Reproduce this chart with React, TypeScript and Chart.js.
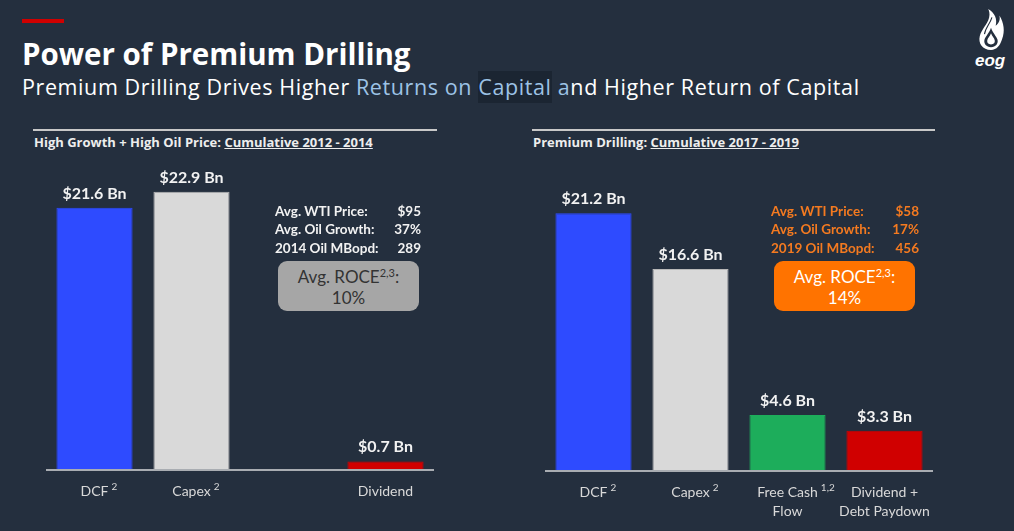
import React, { useEffect, useRef } from "react";
import { Chart, registerables } from "chart.js";
Chart.register(...registerables);

// ---- Data ----
const leftCategories: string[][] = [["DCF"], ["Capex"], [""], ["Dividend"]];
const leftSuperscripts = ["2", "2", "", ""];
const leftValues: (number | null)[] = [21.6, 22.9, null, 0.7];
const leftColors = ["#2E4BFF", "#D9D9D9", "#D9D9D9", "#D00000"];

const rightCategories: string[][] = [["DCF"], ["Capex"], ["Free Cash", "Flow"], ["Dividend +", "Debt Paydown"]];
const rightSuperscripts = ["2", "2", "1,2", ""];
const rightValues: (number | null)[] = [21.2, 16.6, 4.6, 3.3];
const rightColors = ["#2E4BFF", "#D9D9D9", "#1DAD5B", "#D00000"];

const leftStats: [string, string][] = [["Avg. WTI Price:", "$95"], ["Avg. Oil Growth:", "37%"], ["2014 Oil MBopd:", "289"]];
const rightStats: [string, string][] = [["Avg. WTI Price:", "$58"], ["Avg. Oil Growth:", "17%"], ["2019 Oil MBopd:", "456"]];
const leftRoce = "10%";
const rightRoce = "14%";

const BG = "#242F3E";
const FONT = "Lato, 'Open Sans', sans-serif";
const OS = "'Open Sans', Lato, sans-serif";

function makePlugin(lines: string[][], sups: string[]) {
  return {
    id: "slideLabels",
    afterDatasetsDraw(chart: any) {
      const ctx = chart.ctx;
      const meta = chart.getDatasetMeta(0);
      const ds = chart.data.datasets[0].data;
      const xs = chart.scales.x;
      const ys = chart.scales.y;
      const y0 = ys.getPixelForValue(0);
      ctx.save();
      ctx.strokeStyle = "#A9ADB2";
      ctx.lineWidth = 2;
      ctx.beginPath();
      ctx.moveTo(chart.chartArea.left, y0);
      ctx.lineTo(chart.chartArea.right, y0);
      ctx.stroke();
      ctx.font = `bold 16px ${FONT}`;
      ctx.fillStyle = "#F2F2F2";
      ctx.textAlign = "center";
      ctx.textBaseline = "alphabetic";
      meta.data.forEach((bar: any, i: number) => {
        const v = ds[i];
        if (v == null) return;
        ctx.fillText(`$${v} Bn`, bar.x, bar.y - 9);
      });
      lines.forEach((ls, i) => {
        const cx = xs.getPixelForValue(i);
        ls.forEach((t, j) => {
          const by = y0 + 26 + j * 19;
          ctx.font = `14px ${FONT}`;
          ctx.textAlign = "center";
          ctx.fillStyle = "#D9D9D9";
          ctx.fillText(t, cx, by);
          if (j === 0 && sups[i]) {
            const w = ctx.measureText(t).width;
            ctx.font = `10px ${FONT}`;
            ctx.textAlign = "left";
            ctx.fillText(sups[i], cx + w / 2 + 3, by - 6);
          }
        });
      });
      ctx.restore();
    },
  };
}

function BarPanel(props: {
  left: number; top: number; width: number; height: number;
  pad: { left: number; right: number; top: number; bottom: number };
  max: number; cats: string[][]; sups: string[]; values: (number | null)[]; colors: string[];
}) {
  const ref = useRef<HTMLCanvasElement>(null);
  useEffect(() => {
    const chart = new Chart(ref.current!, {
      type: "bar",
      data: {
        labels: props.cats.map((c) => c.join(" ")),
        datasets: [
          {
            data: props.values as any,
            backgroundColor: props.colors,
            borderColor: props.colors.map((c) => (c === "#D9D9D9" ? "#B8B8B8" : c)),
            borderWidth: 1,
            barPercentage: 0.785,
            categoryPercentage: 1,
          },
        ],
      },
      options: {
        responsive: false,
        animation: false,
        layout: { padding: props.pad },
        plugins: { legend: { display: false }, tooltip: { enabled: false } },
        scales: {
          x: { display: false },
          y: { display: false, min: 0, max: props.max },
        },
      },
      plugins: [makePlugin(props.cats, props.sups)],
    });
    return () => chart.destroy();
  }, []);
  return (
    <canvas
      ref={ref}
      width={props.width}
      height={props.height}
      style={{ position: "absolute", left: props.left, top: props.top, width: props.width, height: props.height, display: "block" }}
    />
  );
}

function Stats(props: { left: number; width: number; rows: [string, string][]; color: string }) {
  return (
    <div style={{ position: "absolute", left: props.left, top: 201.5, width: props.width, font: `bold 13.5px ${FONT}`, lineHeight: "18.5px", color: props.color }}>
      {props.rows.map((r, i) => (
        <div key={i} style={{ display: "flex", justifyContent: "space-between", whiteSpace: "nowrap" }}>
          <span>{r[0]}</span>
          <span>{r[1]}</span>
        </div>
      ))}
    </div>
  );
}

function Roce(props: { left: number; bg: string; color: string; value: string }) {
  return (
    <div style={{ position: "absolute", left: props.left, top: 261, width: 141, height: 50, borderRadius: 9, background: props.bg, color: props.color, font: `17px ${FONT}`, lineHeight: "21px", textAlign: "center", boxSizing: "border-box", paddingTop: 5 }}>
      <div>Avg. ROCE<sup style={{ fontSize: 11, verticalAlign: "6px", lineHeight: 0 }}>2,3</sup>:</div>
      <div>{props.value}</div>
    </div>
  );
}

export default function App() {
  return (
    <div style={{ position: "fixed", left: 0, top: 0, width: 1014, height: 531, background: BG, overflow: "hidden", fontFamily: FONT }}>
      <div style={{ position: "absolute", left: 22, top: 19, width: 42, height: 3.5, background: "#D00000" }} />
      <div style={{ position: "absolute", left: 22, top: 38.5, font: `bold 29.5px ${OS}`, lineHeight: "29.5px", color: "#FFFFFF", whiteSpace: "nowrap" }}>
        Power of Premium Drilling
      </div>
      <div style={{ position: "absolute", left: 22, top: 76, font: `21.5px ${OS}`, lineHeight: "21.5px", color: "#FFFFFF", whiteSpace: "nowrap", letterSpacing: "0.6px" }}>
        Premium Drilling Drives Higher <span style={{ color: "#9DC3E6" }}>Returns on </span>
        <span style={{ color: "#9DC3E6", background: "#1B2532", padding: "1px 0 2px" }}>Capital</span>
        <span style={{ color: "#9DC3E6" }}> a</span>nd Higher Return of Capital
      </div>
      {/* logo */}
      <svg style={{ position: "absolute", left: 977, top: 8 }} width="28" height="44" viewBox="0 0 30 45">
        <path d="M15 44 C6 44 1 37 3 29 C5 21 11 17 13 9 C14 5 13 2 12 0 C19 4 22 11 20 18 C24 15 25 11 24 7 C29 15 30 24 27 32 C25 39 21 44 15 44 Z" fill="#FFFFFF" />
        <path d="M15 41 C10 41 7 37 8 33 C9 29 13 26 15 20 C17 26 21 29 22 33 C23 37 20 41 15 41 Z" fill={BG} />
        <path d="M15 38 C12 38 10.5 36 11 33.5 C11.5 31 14 29 15 26 C16 29 18.5 31 19 33.5 C19.5 36 18 38 15 38 Z" fill="#FFFFFF" />
        <path d="M8 27 C9 20 14 16 16 9" stroke={BG} strokeWidth="1.2" fill="none" />
      </svg>
      <div style={{ position: "absolute", left: 975, top: 51, font: `italic bold 17px 'Liberation Sans', Arial, sans-serif`, color: "#FFFFFF", letterSpacing: 0 }}>eog</div>

      {/* panel headers */}
      <div style={{ position: "absolute", left: 33, top: 129, width: 404, height: 2, background: "#C8C8C8" }} />
      <div style={{ position: "absolute", left: 34, top: 135, font: `bold 13px ${OS}`, lineHeight: "14px", color: "#EDEDED", whiteSpace: "nowrap" }}>
        High Growth + High Oil Price: <span style={{ textDecoration: "underline" }}>Cumulative 2012 - 2014</span>
      </div>
      <div style={{ position: "absolute", left: 532, top: 129, width: 403, height: 2, background: "#C8C8C8" }} />
      <div style={{ position: "absolute", left: 533, top: 135, font: `bold 13px ${OS}`, lineHeight: "14px", color: "#EDEDED", whiteSpace: "nowrap" }}>
        Premium Drilling: <span style={{ textDecoration: "underline" }}>Cumulative 2017 - 2019</span>
      </div>

      <BarPanel left={0} top={150} width={500} height={380} pad={{ left: 46, right: 66, top: 20, bottom: 60 }} max={24.7}
        cats={leftCategories} sups={leftSuperscripts} values={leftValues} colors={leftColors} />
      <BarPanel left={510} top={150} width={504} height={380} pad={{ left: 35, right: 81, top: 20, bottom: 59 }} max={24.75}
        cats={rightCategories} sups={rightSuperscripts} values={rightValues} colors={rightColors} />

      <Stats left={275} width={146} rows={leftStats} color="#F2F2F2" />
      <Roce left={278} bg="#A6A6A6" color="#333333" value={leftRoce} />
      <Stats left={771} width={148} rows={rightStats} color="#F47A20" />
      <Roce left={774} bg="#FF7300" color="#FFFFFF" value={rightRoce} />
    </div>
  );
}
